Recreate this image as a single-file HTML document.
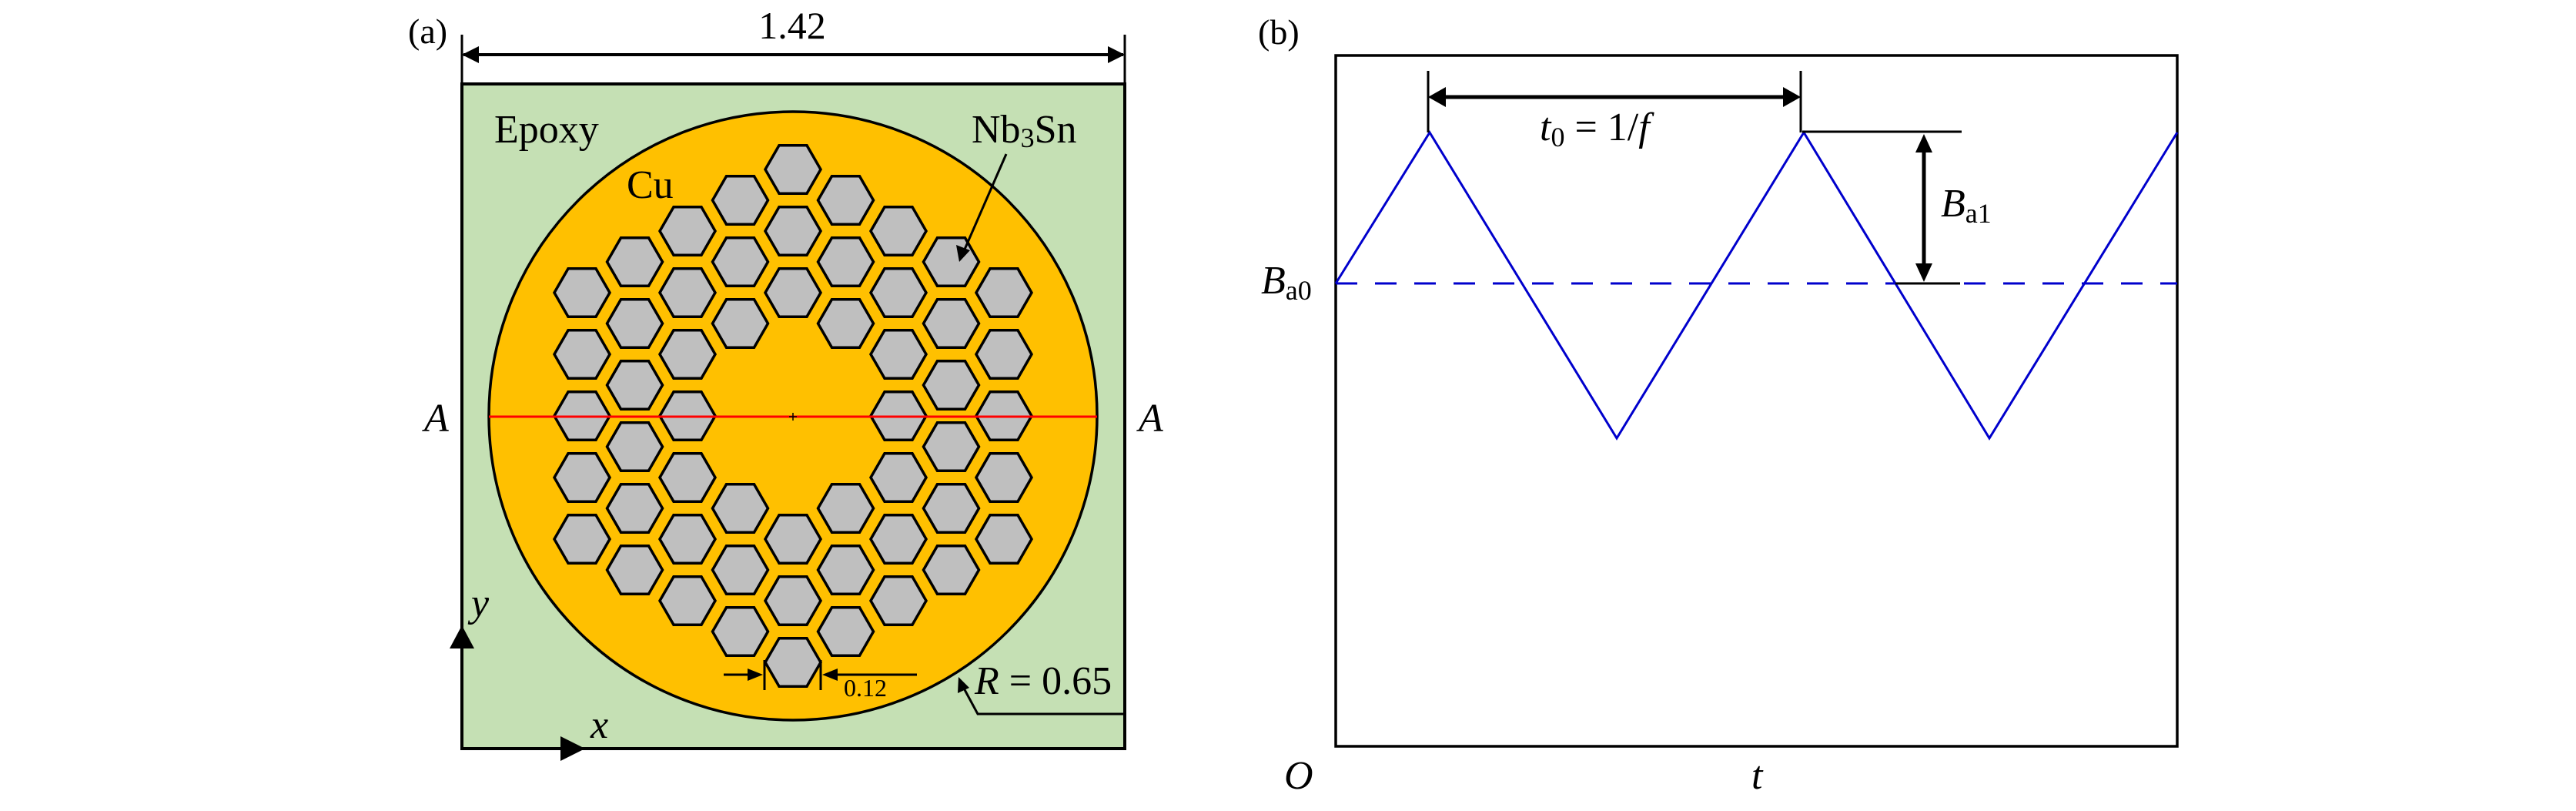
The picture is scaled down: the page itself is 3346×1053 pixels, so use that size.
<!DOCTYPE html>
<html><head><meta charset="utf-8"><style>
html,body{margin:0;padding:0;background:#fff}
svg{display:block}
text{font-family:"Liberation Serif",serif;fill:#000}
.it{font-style:italic}
</style></head><body>
<svg width="3346" height="1053" viewBox="0 0 3346 1053" xmlns="http://www.w3.org/2000/svg">
<defs>
<polygon id="h" points="-36,0 -18,-31.2 18,-31.2 36,0 18,31.2 -18,31.2" fill="#bfbfbf" stroke="#000" stroke-width="3.5" stroke-linejoin="miter"/>
</defs>
<!-- Panel a -->
<text x="530" y="56" font-size="46">(a)</text>
<text x="1029" y="50" font-size="50" text-anchor="middle">1.42</text>
<line x1="600" y1="45" x2="600" y2="109" stroke="#000" stroke-width="3"/>
<line x1="1461" y1="45" x2="1461" y2="109" stroke="#000" stroke-width="3"/>
<line x1="602" y1="71" x2="1459" y2="71" stroke="#000" stroke-width="4"/>
<path d="M600,71 L622,60 L622,82z"/>
<path d="M1461,71 L1439,60 L1439,82z"/>
<rect x="600" y="109" width="861" height="863" fill="#c5e0b4" stroke="#000" stroke-width="4"/>
<circle cx="1030" cy="540" r="395" fill="#ffc000" stroke="#000" stroke-width="3.5"/>
<g>
<use href="#h" x="1030" y="220"/><use href="#h" x="1030" y="300"/><use href="#h" x="1030" y="380"/><use href="#h" x="1030" y="700"/><use href="#h" x="1030" y="780"/><use href="#h" x="1030" y="860"/>
<use href="#h" x="961.5" y="260"/><use href="#h" x="961.5" y="340"/><use href="#h" x="961.5" y="420"/><use href="#h" x="961.5" y="660"/><use href="#h" x="961.5" y="740"/><use href="#h" x="961.5" y="820"/>
<use href="#h" x="1098.5" y="260"/><use href="#h" x="1098.5" y="340"/><use href="#h" x="1098.5" y="420"/><use href="#h" x="1098.5" y="660"/><use href="#h" x="1098.5" y="740"/><use href="#h" x="1098.5" y="820"/>
<use href="#h" x="893" y="300"/><use href="#h" x="893" y="380"/><use href="#h" x="893" y="460"/><use href="#h" x="893" y="540"/><use href="#h" x="893" y="620"/><use href="#h" x="893" y="700"/><use href="#h" x="893" y="780"/>
<use href="#h" x="1167" y="300"/><use href="#h" x="1167" y="380"/><use href="#h" x="1167" y="460"/><use href="#h" x="1167" y="540"/><use href="#h" x="1167" y="620"/><use href="#h" x="1167" y="700"/><use href="#h" x="1167" y="780"/>
<use href="#h" x="824.5" y="340"/><use href="#h" x="824.5" y="420"/><use href="#h" x="824.5" y="500"/><use href="#h" x="824.5" y="580"/><use href="#h" x="824.5" y="660"/><use href="#h" x="824.5" y="740"/>
<use href="#h" x="1235.5" y="340"/><use href="#h" x="1235.5" y="420"/><use href="#h" x="1235.5" y="500"/><use href="#h" x="1235.5" y="580"/><use href="#h" x="1235.5" y="660"/><use href="#h" x="1235.5" y="740"/>
<use href="#h" x="756" y="380"/><use href="#h" x="756" y="460"/><use href="#h" x="756" y="540"/><use href="#h" x="756" y="620"/><use href="#h" x="756" y="700"/>
<use href="#h" x="1304" y="380"/><use href="#h" x="1304" y="460"/><use href="#h" x="1304" y="540"/><use href="#h" x="1304" y="620"/><use href="#h" x="1304" y="700"/>
</g>
<line x1="635" y1="541" x2="1425" y2="541" stroke="#ff0000" stroke-width="3"/>
<path d="M1025,541 H1035 M1030,536 V546" stroke="#000" stroke-width="1.5"/>
<text x="642" y="185" font-size="52">Epoxy</text>
<text x="814" y="257" font-size="52">Cu</text>
<text x="1262" y="185" font-size="52">Nb<tspan font-size="36" dy="6">3</tspan><tspan dy="-6">Sn</tspan></text>
<line x1="1307" y1="200" x2="1252" y2="326" stroke="#000" stroke-width="3"/>
<path d="M1246,340 L1242,318 L1260,325z"/>
<text x="551" y="560" font-size="52" class="it">A</text>
<text x="1479" y="560" font-size="52" class="it">A</text>
<line x1="600" y1="972" x2="600" y2="835" stroke="#000" stroke-width="4"/>
<path d="M600,812 L584,842 L616,842z"/>
<line x1="600" y1="972" x2="735" y2="972" stroke="#000" stroke-width="4"/>
<path d="M760,972 L728,956 L728,988z"/>
<text x="612" y="800" font-size="52" class="it">y</text>
<text x="767" y="958" font-size="52" class="it">x</text>
<line x1="993" y1="857" x2="993" y2="896" stroke="#000" stroke-width="3"/>
<line x1="1066" y1="857" x2="1066" y2="896" stroke="#000" stroke-width="3"/>
<line x1="940" y1="876" x2="975" y2="876" stroke="#000" stroke-width="3"/>
<path d="M991,876 L971,868 L971,884z"/>
<line x1="1085" y1="876" x2="1191" y2="876" stroke="#000" stroke-width="3"/>
<path d="M1068,876 L1088,868 L1088,884z"/>
<text x="1096" y="904" font-size="32">0.12</text>
<text x="1266" y="901" font-size="52"><tspan class="it">R</tspan> = 0.65</text>
<polyline points="1461,927 1270,927 1250,890" fill="none" stroke="#000" stroke-width="3"/>
<path d="M1245,879 L1244,900 L1259,893z"/>
<!-- Panel b -->
<text x="1634" y="57" font-size="46">(b)</text>
<rect x="1735" y="72" width="1093" height="897" fill="none" stroke="#000" stroke-width="3.5"/>
<line x1="1735" y1="368" x2="2828" y2="368" stroke="#0000cc" stroke-width="3" stroke-dasharray="28,23"/>
<polyline points="1735,368 1857,172 2100,569 2343,172 2584,569 2828,172" fill="none" stroke="#0000cc" stroke-width="3"/>
<line x1="1855" y1="92" x2="1855" y2="172" stroke="#000" stroke-width="3"/>
<line x1="2339" y1="92" x2="2339" y2="172" stroke="#000" stroke-width="3"/>
<line x1="1870" y1="126" x2="2322" y2="126" stroke="#000" stroke-width="5"/>
<path d="M1855,126 L1878,113 L1878,139z"/>
<path d="M2339,126 L2316,113 L2316,139z"/>
<text x="2000" y="182" font-size="52"><tspan class="it">t</tspan><tspan font-size="36" dy="8">0</tspan><tspan dy="-8"> = 1/</tspan><tspan class="it">f</tspan></text>
<line x1="2341" y1="171" x2="2548" y2="171" stroke="#000" stroke-width="3"/>
<line x1="2462" y1="368" x2="2546" y2="368" stroke="#000" stroke-width="3"/>
<line x1="2499" y1="190" x2="2499" y2="350" stroke="#000" stroke-width="5"/>
<path d="M2499,174 L2488,198 L2510,198z"/>
<path d="M2499,366 L2488,342 L2510,342z"/>
<text x="2521" y="281" font-size="52"><tspan class="it">B</tspan><tspan font-size="36" dy="8">a1</tspan></text>
<text x="1638" y="381" font-size="52"><tspan class="it">B</tspan><tspan font-size="36" dy="8">a0</tspan></text>
<text x="1668" y="1024" font-size="52" class="it">O</text>
<text x="2275" y="1024" font-size="52" class="it">t</text>
</svg>
</body></html>
